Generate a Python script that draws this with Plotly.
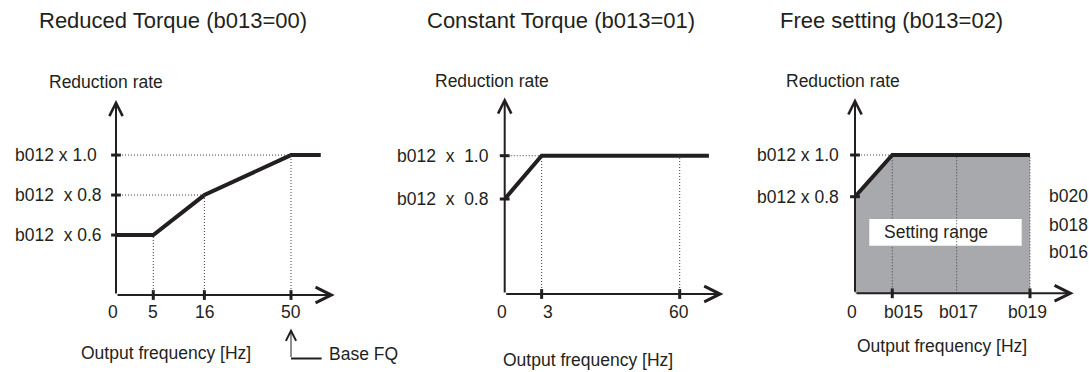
import numpy as np
import plotly.graph_objects as go

# ---------------- data ----------------
# Reduced torque (b013=00)
rt_title = "Reduced Torque (b013=00)"
rt_freq_labels = ["0", "5", "16", "50"]
rt_freq_pos = [0.0, 0.213, 0.505, 1.0]      # place of each labelled frequency on the drawn axis
rt_freq_marked = [False, True, True, True]
rt_curve_x = rt_freq_pos + [1.17]
rt_curve_rate = [0.6, 0.6, 0.8, 1.0, 1.0]
rt_rate_levels = [1.0, 0.8, 0.6]
rt_rate_labels = ["b012 x 1.0", "b012\u00a0 x 0.8", "b012\u00a0 x 0.6"]

# Constant torque (b013=01)
ct_title = "Constant Torque (b013=01)"
ct_freq_labels = ["0", "3", "60"]
ct_freq_pos = [0.0, 0.211, 1.0]
ct_freq_marked = [False, True, True]
ct_curve_x = ct_freq_pos + [1.167]
ct_curve_rate = [0.8, 1.0, 1.0, 1.0]
ct_rate_levels = [1.0, 0.8]
ct_rate_labels = ["b012\u00a0 x\u00a0 1.0", "b012\u00a0 x\u00a0 0.8"]

# Free setting (b013=02)
fs_title = "Free setting (b013=02)"
fs_freq_labels = ["0", "b015", "b017", "b019"]
fs_freq_pos = [0.0, 0.213, 0.581, 1.0]
fs_freq_marked = [False, True, False, True]
fs_curve_x = fs_freq_pos
fs_curve_rate = [0.8, 1.0, 1.0, 1.0]
fs_rate_levels = [1.0, 0.8]
fs_rate_labels = ["b012 x 1.0", "b012 x 0.8"]
fs_side_labels = ["b020", "b018", "b016"]
fs_range_label = "Setting range"

y_title = "Reduction rate"
x_title = "Output frequency [Hz]"
base_label = "Base FQ"

# ---------------- styling ----------------
W, H = 1089, 372
INK = "#231f20"
GUIDE = "#3c3c3e"
FILL = "#a7a9ac"
FONT = "Liberation Sans, Arial, sans-serif"
TITLE_SIZE = 22
TEXT_SIZE = 17.5
XMAX = 1.25      # arrow tip of the frequency axis
UNIT = 175       # pixels per unit of the frequency axis


def fx(px):
    return px / W


def fy(py):
    return 1 - py / H


panels = [
    dict(title=rt_title, labels=rt_freq_labels, pos=rt_freq_pos, marked=rt_freq_marked,
         cx=rt_curve_x, cy=rt_curve_rate, levels=rt_rate_levels, level_labels=rt_rate_labels,
         origin=116, bottom=295, top=100, yr=(0.300, 1.2755),
         title_x=36.7, yt_x=46.7, yt_y=82, lab_x=13, xt_c=166, xt_y=353,
         shifts=[-3, 0, 0, 0]),
    dict(title=ct_title, labels=ct_freq_labels, pos=ct_freq_pos, marked=ct_freq_marked,
         cx=ct_curve_x, cy=ct_curve_rate, levels=ct_rate_levels, level_labels=ct_rate_labels,
         origin=504.7, bottom=294, top=97.5, yr=(0.3612, 1.2688),
         title_x=425, yt_x=433.3, yt_y=81, lab_x=395, xt_c=588.3, xt_y=360,
         shifts=[-3, 6.6, -1]),
    dict(title=fs_title, labels=fs_freq_labels, pos=fs_freq_pos, marked=fs_freq_marked,
         cx=fs_curve_x, cy=fs_curve_rate, levels=fs_rate_levels, level_labels=fs_rate_labels,
         origin=855, bottom=293.3, top=98.3, yr=(0.3367, 1.272),
         title_x=778.3, yt_x=784, yt_y=81, lab_x=755, xt_c=941.7, xt_y=346,
         shifts=[-2.7, 11.7, 2.3, -2.7]),
]

fig = go.Figure()
annotations = []
shapes = []
layout_axes = {}


def txt(text, x, y, xref="paper", yref="paper", size=TEXT_SIZE, xanchor="left", **kw):
    annotations.append(dict(text=text, x=x, y=y, xref=xref, yref=yref, showarrow=False,
                            xanchor=xanchor, yanchor="middle",
                            font=dict(family=FONT, size=size, color=INK), **kw))


for i, p in enumerate(panels, start=1):
    sfx = "" if i == 1 else str(i)
    xa, ya = "x" + sfx, "y" + sfx
    lo, hi = p["yr"]
    layout_axes["xaxis" + sfx] = dict(domain=[fx(p["origin"]), fx(p["origin"] + XMAX * UNIT)],
                                      range=[0, XMAX], visible=False, anchor=ya, fixedrange=True)
    layout_axes["yaxis" + sfx] = dict(domain=[fy(p["bottom"]), fy(p["top"])],
                                      range=[lo, hi], visible=False, anchor=xa, fixedrange=True)

    cx = np.array(p["cx"], dtype=float)
    cy = np.array(p["cy"], dtype=float)

    # shaded setting range under the free-setting curve
    if i == 3:
        fig.add_trace(go.Scatter(x=cx, y=cy, xaxis=xa, yaxis=ya, mode="lines",
                                 line=dict(width=0, color=FILL), fill="tozeroy",
                                 fillcolor=FILL, hoverinfo="skip"))

    # dotted guides: vertical from each labelled frequency, horizontal to each level
    guide = dict(color=GUIDE, width=1, dash="1px,2px")
    vguides = []
    for xv in p["pos"][1:]:
        vguides.append(dict(type="line", xref=xa, yref=ya, x0=xv, x1=xv,
                            y0=lo, y1=float(np.interp(xv, cx, cy)), line=guide, layer="above"))
    hguides = []
    for lv in p["levels"]:
        if np.isclose(cy[0], lv):
            continue
        reach = float(cx[np.argmax(cy >= lv - 1e-9)])
        hguides.append(dict(type="line", xref=xa, yref=ya, x0=0, x1=reach,
                            y0=lv, y1=lv, line=guide, layer="above"))

    if i == 3:
        # white label box over the shaded area; the b017 guide crosses it
        shapes.extend(vguides[:1] + hguides)
        shapes.append(dict(type="rect", xref="paper", yref="paper",
                           x0=fx(869.3), x1=fx(1021.7), y0=fy(245.7), y1=fy(219),
                           fillcolor="white", line=dict(width=0), layer="above"))
        shapes.extend(vguides[1:])
        txt(fs_range_label, fx(881.7), fy(231.7))
        for lbl, py in zip(fs_side_labels, [196, 224.5, 252]):
            txt(lbl, fx(1046.7), fy(py))
    else:
        shapes.extend(vguides + hguides)

    # characteristic curve
    fig.add_trace(go.Scatter(x=cx, y=cy, xaxis=xa, yaxis=ya, mode="lines",
                             line=dict(color=INK, width=4), hoverinfo="skip"))

    # axes drawn as arrows
    annotations.append(dict(x=XMAX, y=lo, ax=0, ay=lo, xref=xa, yref=ya, axref=xa, ayref=ya,
                            text="", showarrow=True, arrowhead=5, arrowsize=1.55,
                            arrowwidth=2, arrowcolor=INK))
    annotations.append(dict(x=0, y=hi, ax=0, ay=lo, xref=xa, yref=ya, axref=xa, ayref=ya,
                            text="", showarrow=True, arrowhead=5, arrowsize=1.3,
                            arrowwidth=2, arrowcolor=INK))

    # tick marks on both axes
    mx = [xv for xv, m in zip(p["pos"], p["marked"]) if m]
    fig.add_trace(go.Scatter(x=mx, y=[lo] * len(mx), xaxis=xa, yaxis=ya, mode="markers",
                             marker=dict(symbol="line-ns", size=7, line=dict(width=3, color=INK)),
                             cliponaxis=False, hoverinfo="skip"))
    fig.add_trace(go.Scatter(x=[0] * len(p["levels"]), y=p["levels"], xaxis=xa, yaxis=ya,
                             mode="markers",
                             marker=dict(symbol="line-ew", size=7, line=dict(width=3, color=INK)),
                             cliponaxis=False, hoverinfo="skip"))

    # texts
    txt(p["title"], fx(p["title_x"]), fy(21), size=TITLE_SIZE)
    txt(y_title, fx(p["yt_x"]), fy(p["yt_y"]))
    txt(x_title, fx(p["xt_c"]), fy(p["xt_y"]), xanchor="center")
    for lv, lbl in zip(p["levels"], p["level_labels"]):
        txt(lbl, fx(p["lab_x"]), lv, yref=ya)
    for xv, lbl, sh in zip(p["pos"], p["labels"], p["shifts"]):
        txt(lbl, xv, fy(311.7), xref=xa, xanchor="center", xshift=sh)

# base frequency pointer under the 50 Hz mark
annotations.append(dict(x=rt_freq_pos[3], y=fy(328.5), ax=0, ay=30,
                        xref="x", yref="paper", axref="pixel", ayref="pixel", text="",
                        showarrow=True, arrowhead=5, arrowsize=2, arrowwidth=1, arrowcolor=INK))
shapes.append(dict(type="line", xref="x", yref="paper", x0=rt_freq_pos[3], x1=1.175,
                   y0=fy(358.5), y1=fy(358.5), line=dict(color=INK, width=2)))
txt(base_label, fx(326.7), fy(354))

fig.update_layout(width=W, height=H, margin=dict(l=0, r=0, t=0, b=0),
                  paper_bgcolor="white", plot_bgcolor="rgba(0,0,0,0)", showlegend=False,
                  annotations=annotations, shapes=shapes, **layout_axes)

fig.write_html("out.html")
